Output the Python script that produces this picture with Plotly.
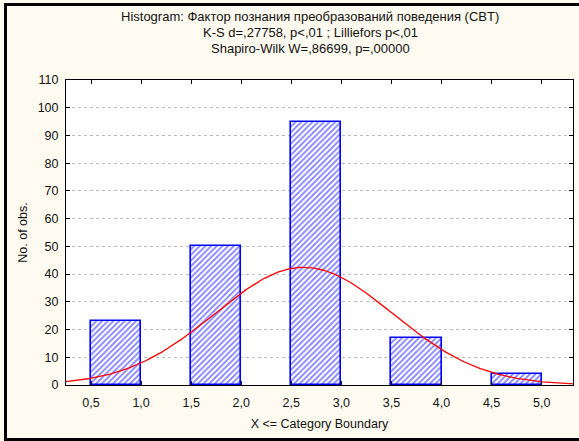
import numpy as np
import plotly.graph_objects as go

# Data
bin_upper = [1.0, 2.0, 3.0, 4.0, 5.0]      # category (upper) boundaries = observed values
counts = [23, 50, 95, 17, 4]
bin_width = 0.5
x_tick_vals = [0.5, 1.0, 1.5, 2.0, 2.5, 3.0, 3.5, 4.0, 4.5, 5.0]
x_tick_text = ["0,5", "1,0", "1,5", "2,0", "2,5", "3,0", "3,5", "4,0", "4,5", "5,0"]
y_tick_vals = list(range(0, 111, 10))

title_lines = [
    "Histogram: Фактор познания преобразований поведения (CBT)",
    "K-S d=,27758, p<,01 ; Lilliefors p<,01",
    "Shapiro-Wilk W=,86699, p=,00000",
]

# Derived
vals = np.array(bin_upper)
cnt = np.array(counts)
N = cnt.sum()
mean = (vals * cnt).sum() / N
sd = np.sqrt(((vals - mean) ** 2 * cnt).sum() / (N - 1))
xr = [0.25, 5.313]
xc = np.linspace(xr[0], xr[1], 300)
yc = N * bin_width * np.exp(-0.5 * ((xc - mean) / sd) ** 2) / (sd * np.sqrt(2 * np.pi))

FONT = "Liberation Sans, Arial, sans-serif"
FS = 12.5
TFS = 13

fig = go.Figure()
fig.add_trace(go.Bar(
    x=[u - bin_width / 2 for u in bin_upper], y=counts, width=bin_width,
    marker=dict(color="white", line=dict(color="#0000FF", width=1.6),
                pattern=dict(shape="/", fgcolor="#0000FF", bgcolor="white", size=4, solidity=0.45)),
    showlegend=False, hoverinfo="skip",
))
fig.add_trace(go.Scatter(x=xc, y=yc, mode="lines", line=dict(color="#FF0000", width=1.3),
                         showlegend=False, hoverinfo="skip", cliponaxis=False))

L, R, T, B = 66, 6, 80, 56
W, H = 579, 441
pw, ph = W - L - R, H - T - B

def py(ypix):
    return (T + ph - ypix) / ph

def px(xpix):
    return (xpix - L) / pw

title_y = [17, 33, 49]
annotations = [dict(text=t, xref="paper", yref="paper", x=px(310), y=py(yy), xanchor="center",
                    yanchor="middle", showarrow=False, font=dict(size=TFS, color="#111"))
               for t, yy in zip(title_lines, title_y)]

fig.update_layout(
    width=W, height=H,
    margin=dict(l=L, r=R, t=T, b=B),
    paper_bgcolor="#FFFBF0", plot_bgcolor="white",
    font=dict(family=FONT, size=FS, color="#111"),
    annotations=annotations,
    bargap=0,
    xaxis=dict(range=xr, tickvals=x_tick_vals, ticktext=x_tick_text, ticks="inside", ticklen=4,
               tickcolor="black", showline=True, linecolor="black", linewidth=1, mirror="ticks",
               showgrid=False, zeroline=False, ticklabelstandoff=6,
               title=dict(text="X <= Category Boundary", standoff=10, font=dict(size=FS))),
    yaxis=dict(range=[0, 110], tickvals=y_tick_vals, ticks="inside", ticklen=4,
               tickcolor="black", showline=True, linecolor="black", linewidth=1, mirror="ticks",
               showgrid=True, gridcolor="#BDBDBD", griddash="dot", gridwidth=1, zeroline=False,
               ticklabelstandoff=4,
               title=dict(text="No. of obs.", standoff=7, font=dict(size=FS))),
    shapes=[dict(type="rect", xref="paper", yref="paper",
                 x0=px(5.5), x1=px(W + 10),
                 y0=py(439.5), y1=py(4.5),
                 line=dict(color="black", width=3), layer="above")],
)

fig.write_html("out.html", config={"displayModeBar": False},
               post_script="document.body.style.margin='0';document.body.style.overflow='hidden';")
